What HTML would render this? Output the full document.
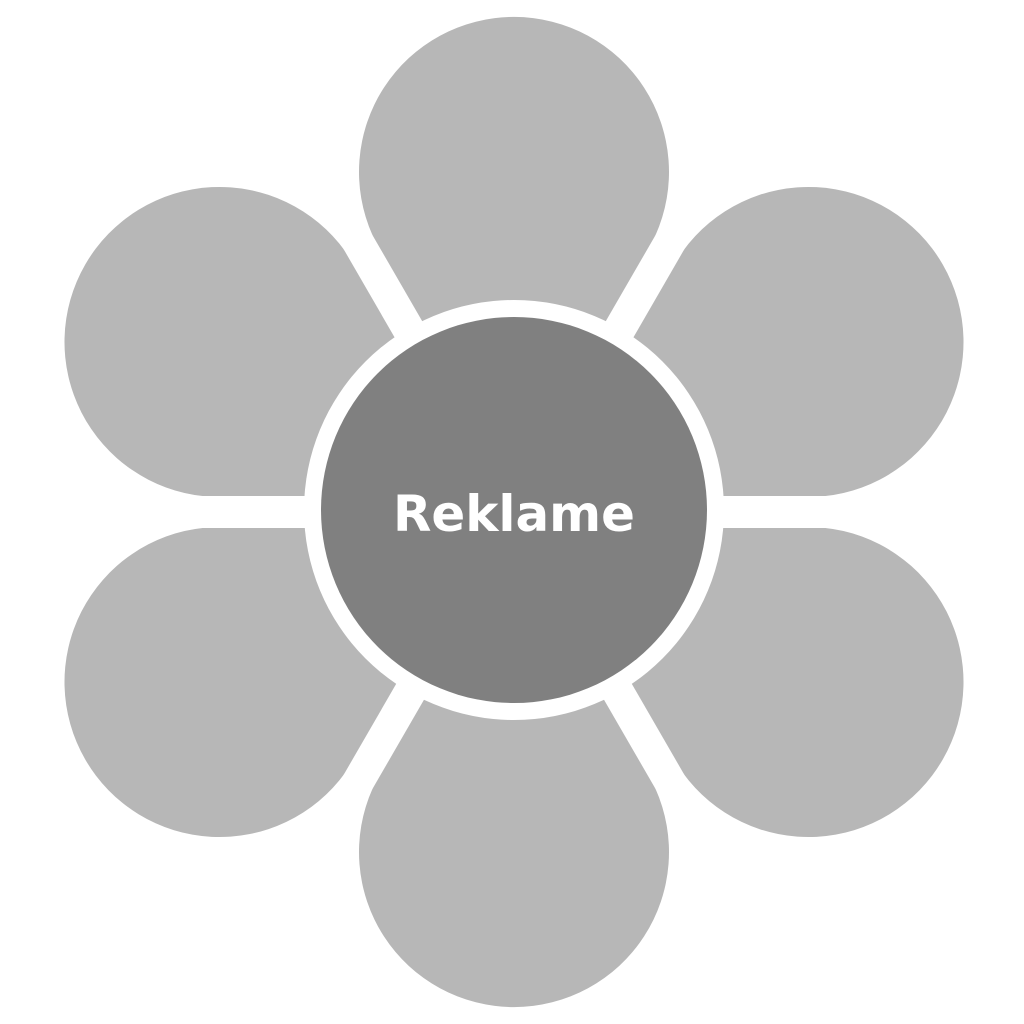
<!DOCTYPE html>
<html><head><meta charset="utf-8"><style>html,body{margin:0;padding:0;background:#fff}svg{display:block}</style></head>
<body>
<svg width="1024" height="1024" viewBox="0 0 1024 1024" xmlns="http://www.w3.org/2000/svg">
<defs>
<path id="p" d="M514,552 L372.5,235.2 A155,155 0 1 1 655.5,235.2 Z" fill="#b7b7b7"/>
</defs>
<use href="#p"/>
<use href="#p" transform="rotate(60 514 512)"/>
<use href="#p" transform="rotate(120 514 512)"/>
<use href="#p" transform="rotate(180 514 512)"/>
<use href="#p" transform="rotate(240 514 512)"/>
<use href="#p" transform="rotate(300 514 512)"/>
<g stroke="#fff" stroke-width="32">
<line x1="514" y1="512" x2="1024" y2="512"/>
<line x1="514" y1="512" x2="0" y2="512"/>
<line x1="514" y1="512" x2="770" y2="955"/>
<line x1="514" y1="512" x2="258" y2="955"/>
<line x1="514" y1="512" x2="770" y2="69"/>
<line x1="514" y1="512" x2="258" y2="69"/>
</g>
<circle cx="514" cy="510" r="210" fill="#fff"/>
<circle cx="514" cy="510" r="193" fill="#808080"/>
<text x="514" y="531" text-anchor="middle" font-family="'DejaVu Sans','Liberation Sans',sans-serif" font-weight="bold" font-size="50" fill="#fff" textLength="242" lengthAdjust="spacingAndGlyphs">Reklame</text>
</svg>
</body></html>
